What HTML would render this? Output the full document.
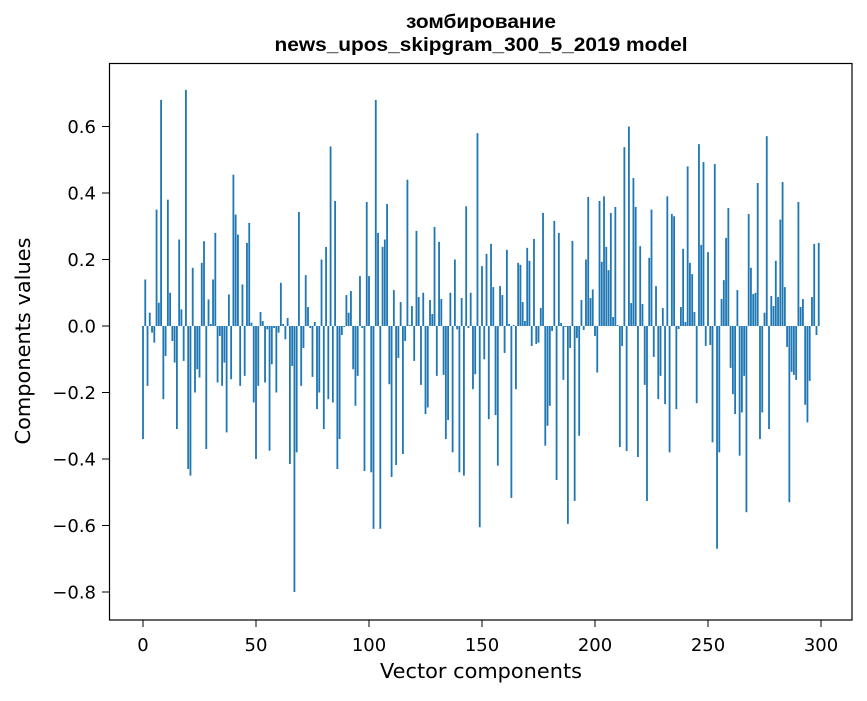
<!DOCTYPE html>
<html><head><meta charset="utf-8"><style>
body{margin:0;background:#fff;}
svg text{font-family:"DejaVu Sans","Liberation Sans",sans-serif;fill:#000;}
</style></head><body>
<svg id="chart" width="867" height="696" viewBox="0 0 867 696" xmlns="http://www.w3.org/2000/svg">
<rect x="0" y="0" width="867" height="696" fill="#fff"/>
<text x="481" y="28" font-size="19" font-weight="bold" text-anchor="middle" style="font-family:'Liberation Sans',sans-serif" textLength="150" lengthAdjust="spacingAndGlyphs">зомбирование</text>
<text x="481" y="51" font-size="19" font-weight="bold" text-anchor="middle" style="font-family:'Liberation Sans',sans-serif" textLength="413" lengthAdjust="spacingAndGlyphs">news_upos_skipgram_300_5_2019 model</text>
<g id="bars"></g>
<g id="xticks"></g>
<g id="yticks"></g>
<rect x="109.5" y="63.5" width="742.5" height="556.5" fill="none" stroke="#000" stroke-width="1.2"/>
<text x="481" y="678" font-size="20.5" text-anchor="middle" textLength="202" lengthAdjust="spacingAndGlyphs">Vector components</text>
<text x="30" y="341" font-size="20.5" text-anchor="middle" transform="rotate(-90 30 341)" textLength="207" lengthAdjust="spacingAndGlyphs">Components values</text>
</svg>
<script>
const values = [
-0.34,0.14,-0.18,0.04,-0.02,-0.05,0.35,0.07,0.68,-0.22,
-0.09,0.38,0.10,-0.045,-0.11,-0.31,0.26,0.05,-0.105,0.71,
-0.43,-0.45,0.175,-0.2,-0.13,-0.155,0.19,0.255,-0.37,0.08,
0.006,0.14,0.28,-0.17,-0.03,-0.18,-0.11,-0.32,0.095,-0.16,
0.455,0.335,0.275,-0.18,0.125,-0.15,0.25,0.31,0.01,-0.23,
-0.4,-0.18,0.042,0.015,-0.17,-0.01,-0.375,-0.115,-0.006,-0.2,
-0.02,0.13,0.006,-0.04,0.024,-0.415,-0.12,-0.8,-0.38,0.343,
-0.18,-0.066,0.153,0.057,-0.006,-0.153,0.012,-0.25,-0.2,0.2,
-0.31,0.238,-0.22,0.54,-0.23,0.376,-0.43,-0.34,-0.027,-0.003,
0.093,0.04,0.105,-0.13,-0.24,-0.15,0.15,-0.006,-0.436,0.373,
0.15,-0.44,-0.61,0.68,0.28,-0.61,0.238,0.26,0.367,-0.175,
-0.454,0.108,-0.418,-0.096,0.072,-0.385,-0.045,0.44,0.003,0.06,
-0.105,0.286,0.087,-0.177,0.1,-0.265,-0.245,0.078,0.036,0.298,
-0.15,0.253,0.081,-0.147,-0.34,-0.283,0.1,-0.38,0.2,-0.01,
-0.44,0.084,-0.45,0.36,-0.006,0.1,-0.19,-0.145,0.58,-0.605,
0.18,-0.1,0.217,-0.28,0.247,0.117,-0.268,-0.42,0.12,0.093,
-0.081,0.229,0.006,-0.517,0.003,-0.19,0.19,0.184,0.072,0.015,
0.235,0.196,-0.06,0.262,-0.054,-0.05,0.054,0.34,-0.36,-0.3,
-0.24,-0.015,0.316,-0.463,0.28,0.009,-0.162,-0.003,-0.595,-0.066,
0.256,-0.526,-0.036,-0.33,0.078,-0.012,0.2,0.388,0.084,0.11,
-0.03,-0.14,0.376,0.193,0.39,0.238,0.168,0.34,0.027,0.358,
0.003,-0.364,-0.06,0.538,-0.376,0.6,0.069,0.445,0.358,-0.394,
0.24,0.066,-0.177,-0.526,0.205,0.35,-0.093,0.12,-0.22,-0.15,
0.054,-0.235,0.39,-0.38,0.337,0.33,-0.25,-0.009,0.057,0.232,
0.012,0.48,0.19,0.156,0.042,-0.232,0.547,0.244,0.493,-0.06,
0.222,-0.057,-0.35,0.487,-0.67,-0.38,0.081,0.138,0.265,0.355,
-0.126,-0.205,-0.265,0.108,-0.39,-0.26,-0.15,-0.56,0.337,0.175,
0.096,0.1,0.43,-0.34,-0.26,0.04,0.571,-0.31,0.09,0.06,
0.196,0.087,0.32,0.433,0.117,-0.063,-0.53,-0.138,-0.147,-0.162,
0.373,0.057,0.081,-0.237,-0.29,-0.165,0.087,0.247,-0.027,0.25
];
const xTicks = [0,50,100,150,200,250,300];
const yTicks = [0.6,0.4,0.2,0.0,-0.2,-0.4,-0.6,-0.8];
const yTickLabels = ["0.6","0.4","0.2","0.0","\u22120.2","\u22120.4","\u22120.6","\u22120.8"];

const NS = "http://www.w3.org/2000/svg";
function xScale(v){ return 143 + 2.26 * v; }
function yScale(v){ return 326 - 332.5 * v; }

const barsG = document.getElementById('bars');
values.forEach(function(v, i){
  const r = document.createElementNS(NS, 'rect');
  const y0 = yScale(0), y1 = yScale(v);
  r.setAttribute('x', xScale(i) - 0.904);
  r.setAttribute('width', 1.808);
  r.setAttribute('y', Math.min(y0, y1));
  r.setAttribute('height', Math.abs(y1 - y0));
  r.setAttribute('fill', '#1f77b4');
  
  
  barsG.appendChild(r);
});

const xg = document.getElementById('xticks');
xTicks.forEach(function(t){
  const x = xScale(t);
  const l = document.createElementNS(NS, 'line');
  l.setAttribute('x1', x); l.setAttribute('x2', x);
  l.setAttribute('y1', 620); l.setAttribute('y2', 627);
  l.setAttribute('stroke', '#000');
  
  
  xg.appendChild(l);
  const tx = document.createElementNS(NS, 'text');
  tx.setAttribute('x', x); tx.setAttribute('y', 651);
  tx.setAttribute('font-size', '18'); tx.setAttribute('text-anchor', 'middle');
  tx.textContent = String(t);
  
  
  xg.appendChild(tx);
});

const yg = document.getElementById('yticks');
yTicks.forEach(function(t, i){
  const y = yScale(t);
  const l = document.createElementNS(NS, 'line');
  l.setAttribute('x1', 102); l.setAttribute('x2', 109);
  l.setAttribute('y1', y); l.setAttribute('y2', y);
  l.setAttribute('stroke', '#000');
  
  
  yg.appendChild(l);
  const tx = document.createElementNS(NS, 'text');
  tx.setAttribute('x', 96); tx.setAttribute('y', y + 6.5);
  tx.setAttribute('font-size', '18'); tx.setAttribute('text-anchor', 'end');
  tx.textContent = yTickLabels[i];
  
  
  yg.appendChild(tx);
});
</script>
</body></html>
